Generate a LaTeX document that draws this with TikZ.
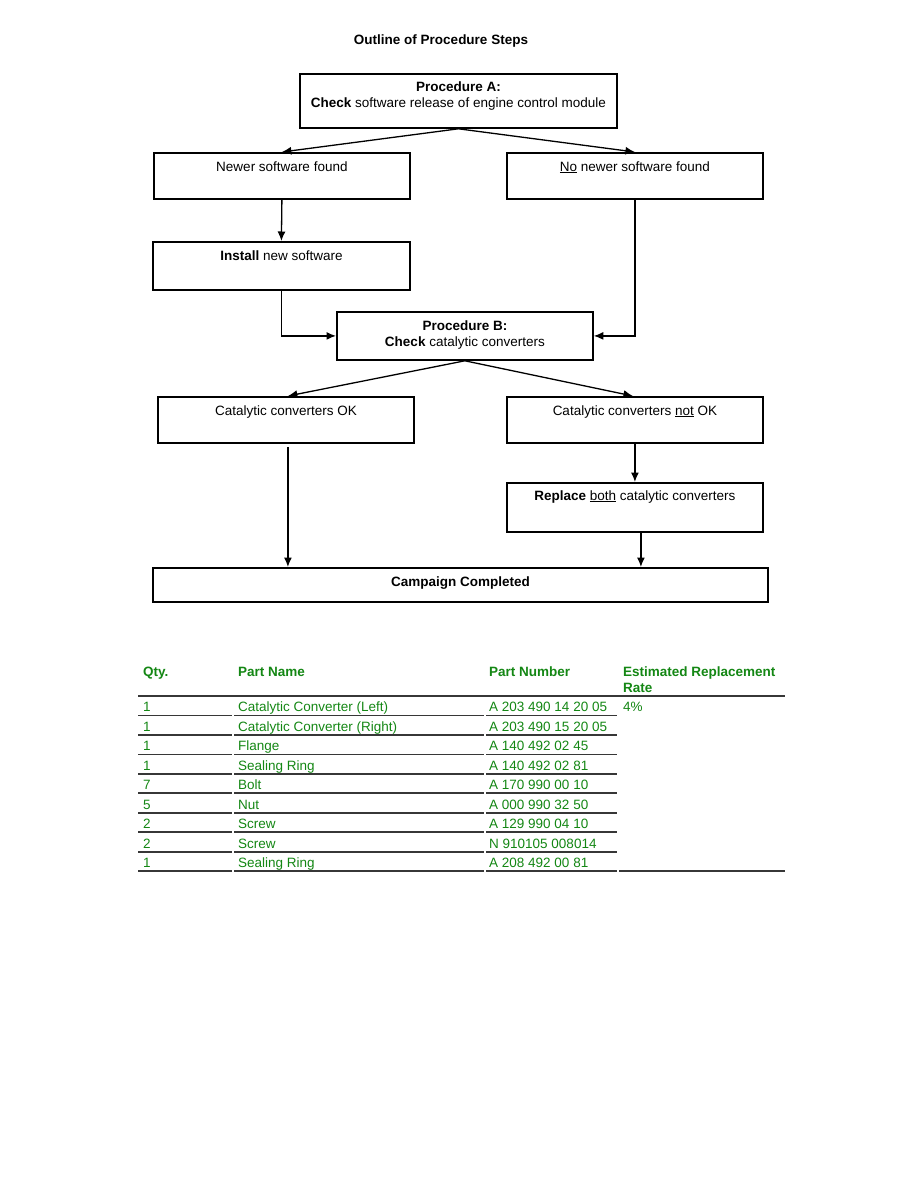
\documentclass[tikz,border=0pt]{standalone}
\usepackage{fontspec}
\setmainfont{Liberation Sans}
\usetikzlibrary{arrows.meta}
\definecolor{tgreen}{RGB}{20,135,20}
\definecolor{rulegray}{RGB}{55,55,55}
\begin{document}
\begin{tikzpicture}[x=1pt,y=-1pt,
  every node/.append style={font=\fontsize{13.5}{15.5}\selectfont},
  fbox/.style={draw,line width=1.8pt,inner sep=0,anchor=north west},
  txt/.style={inner sep=0,anchor=base},
  mtxt/.style={inner sep=0,anchor=north,align=center},
  arr/.style={-{Latex[length=9.5pt,width=8pt]},line width=1.3pt},
  ttxt/.style={inner sep=0,anchor=base west,text=tgreen},
  thead/.style={ttxt,font=\fontsize{13.5}{15.5}\selectfont\bfseries},
  trule/.style={line width=1.8pt,draw=rulegray}]
\fill[white] (0,0) rectangle (918,1188);
\useasboundingbox (0,0) rectangle (918,1188);

% title
\node[txt,font=\fontsize{13.5}{15.5}\selectfont\bfseries] (title) at (441,45) {Outline of Procedure Steps};

% boxes
\node[fbox,minimum width=317pt,minimum height=54pt] (A) at (299,73) {};
\node[fbox,minimum width=256pt,minimum height=46pt] (N1) at (153,152) {};
\node[fbox,minimum width=256pt,minimum height=46pt] (N2) at (506,152) {};
\node[fbox,minimum width=257pt,minimum height=48pt] (Inst) at (152,241) {};
\node[fbox,minimum width=256pt,minimum height=48pt] (B) at (336,311) {};
\node[fbox,minimum width=256pt,minimum height=46pt] (OK) at (157,396) {};
\node[fbox,minimum width=256pt,minimum height=46pt] (NOK) at (506,396) {};
\node[fbox,minimum width=256pt,minimum height=49pt] (Rep) at (506,482) {};
\node[fbox,minimum width=615pt,minimum height=34pt] (Done) at (152,567) {};

% box texts
\node[mtxt] (Atxt) at ([yshift=-9pt]A.north) {\textbf{Procedure A:}\\[0.5pt]\textbf{Check} software release of engine control module};
\node[txt] (N1txt) at ([yshift=-19pt]N1.north) {Newer software found};
\node[txt] (N2txt) at ([yshift=-19pt]N2.north) {\underline{No} newer software found};
\node[txt] (Insttxt) at ([yshift=-19pt]Inst.north) {\textbf{Install} new software};
\node[mtxt] (Btxt) at ([yshift=-10pt]B.north) {\textbf{Procedure B:}\\\textbf{Check} catalytic converters};
\node[txt] (OKtxt) at ([yshift=-19pt]OK.north) {Catalytic converters OK};
\node[txt] (NOKtxt) at ([yshift=-19pt]NOK.north) {Catalytic converters \underline{not} OK};
\node[txt] (Reptxt) at ([yshift=-18pt]Rep.north) {\textbf{Replace} \underline{both} catalytic converters};
\node[txt] (Donetxt) at ([yshift=-19pt]Done.north) {\textbf{Campaign Completed}};

% connectors
\draw[arr] (A.south) -- (N1.north);
\draw[arr] (A.south) -- (N2.north);
\draw[arr] (N1.south) -- (Inst.north);
\draw[arr] (Inst.south) |- (B.west);
\draw[arr] (N2.south) |- (B.east);
\draw[arr] (B.south) -- ([xshift=2pt]OK.north);
\draw[arr] (B.south) -- ([xshift=-2pt]NOK.north);
\draw[arr] (NOK.south) -- (Rep.north);
\coordinate (okstart) at ([xshift=2pt,yshift=-3pt]OK.south);
\coordinate (repstart) at ([xshift=6pt]Rep.south);
\draw[arr] (okstart) -- (okstart |- Done.north);
\draw[arr] (repstart) -- (repstart |- Done.north);

% table header
\node[thead] (hq) at (143,676.5) {Qty.};
\node[thead] (hn) at (238,676.5) {Part Name};
\node[thead] (hp) at (489,676.5) {Part Number};
\node[thead,anchor=north west,align=left] (he) at (623,666.8) {Estimated Replacement\\Rate};
\draw[trule] (138,695.7) -- (785,695.7);

% table rows
\foreach \i/\q/\n/\p in {1/1/{Catalytic Converter (Left)}/{A 203 490 14 20 05},
  2/1/{Catalytic Converter (Right)}/{A 203 490 15 20 05},
  3/1/{Flange}/{A 140 492 02 45},
  4/1/{Sealing Ring}/{A 140 492 02 81},
  5/7/{Bolt}/{A 170 990 00 10},
  6/5/{Nut}/{A 000 990 32 50},
  7/2/{Screw}/{A 129 990 04 10},
  8/2/{Screw}/{N 910105 008014},
  9/1/{Sealing Ring}/{A 208 492 00 81}}{
  \pgfmathsetmacro{\ry}{715.5+19.45*(\i-1)}
  \pgfmathsetmacro{\ty}{\ry-3.6}
  \node[ttxt] (q\i) at (143,\ty) {\q};
  \node[ttxt] (n\i) at (238,\ty) {\n};
  \node[ttxt] (p\i) at (489,\ty) {\p};
  \draw[trule] (138,\ry) -- (232,\ry);
  \draw[trule] (234,\ry) -- (484,\ry);
  \draw[trule] (486,\ry) -- (617,\ry);
}
\node[ttxt] (rate) at (623,711.9) {4\%};
\draw[trule] (619,871.1) -- (785,871.1);
\end{tikzpicture}
\end{document}
